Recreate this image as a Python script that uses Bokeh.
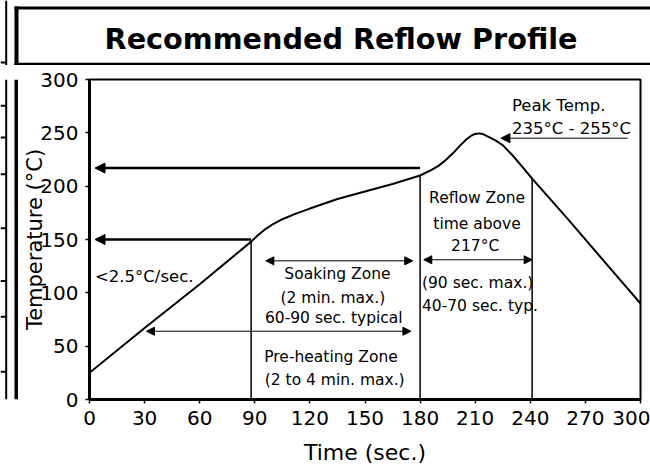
from bokeh.plotting import figure
from bokeh.layouts import column, row
from bokeh.models import (ColumnDataSource, Arrow, NormalHead, Range1d, FixedTicker)
from bokeh.core.properties import value
from bokeh.embed import file_html
from bokeh.resources import INLINE

# ---- data ----
time_s = [0, 30, 60, 88, 92, 96, 100, 105, 112, 120, 135, 150, 165, 180, 186, 190, 194,
          198, 202, 205, 208, 210, 212, 214, 217, 221, 225, 230, 235, 241, 260, 280, 300]
temp_c = [25, 67, 108, 148, 154.5, 160, 164.5, 169, 174, 179, 188, 195, 202, 210, 215,
          219, 224.5, 231, 238.5, 243.5, 247.5, 249, 249.5, 249, 246.5, 243, 238.5, 229.5,
          219.5, 207, 170, 130, 90]

x_ticks = [0, 30, 60, 90, 120, 150, 180, 210, 240, 270, 300]
y_ticks = [0, 50, 100, 150, 200, 250, 300]

# zone boundaries (time, temperature where the line meets the curve)
zone_time = [88, 180, 241]
zone_temp = [148, 210, 207]

# long left-pointing arrows at 217 and 150 degC
lim_temp = [217, 150]
lim_from = [180, 88]
lim_to = [3, 3]

# double-headed span arrows
span_y = [130, 131, 64]
span_x0 = [96, 182, 31]
span_x1 = [176, 241, 175]

# peak temperature pointer
peak_y = [245]
peak_x0 = [293]
peak_x1 = [224]

note_text = ["Peak Temp.", "235°C - 255°C", "Reflow Zone", "time above", "217°C",
             "(90 sec. max.)", "40-70 sec. typ.", "Soaking Zone", "(2 min. max.)",
             "60-90 sec. typical", "Pre-heating Zone", "(2 to 4 min. max.)", "<2.5°C/sec."]
note_x = [230, 230, 211, 211, 210, 181, 181, 135, 132.5, 133, 131.5, 133.5, 3]
note_y = [276, 254, 188.5, 164.5, 144, 109.5, 87.5, 117.5, 95.5, 76.5, 40, 18, 115.5]
note_align = ["left", "left", "center", "center", "center", "left", "left",
              "center", "center", "center", "center", "center", "left"]
note_size = ["16.5px", "16.5px", "15.5px", "15.5px", "15.5px", "15.5px", "15.5px",
             "15.5px", "15.5px", "15.5px", "15.5px", "15.5px", "16.5px"]

title_text = "Recommended Reflow Profile"

# page-frame decoration (pixel positions of the surrounding table rules)
strip_stub_y = [98, 138, 184, 252, 318, 363, 432]

FONT = "DejaVu Sans"
W, H = 650, 467
TOP_H = 65          # height of the heading band
LEFT_W = 18         # width of the left border strip
BORDER_X = 16       # centre of the thick outer rule


def bare(width, height, xr, yr):
    f = figure(width=width, height=height, output_backend="svg", toolbar_location=None,
               x_range=xr, y_range=yr, x_axis_type=None, y_axis_type=None,
               min_border=0, min_border_left=0, min_border_right=0,
               min_border_top=0, min_border_bottom=0)
    f.grid.visible = False
    f.outline_line_color = None
    f.background_fill_color = "white"
    f.border_fill_color = "white"
    return f


# ---- heading band ----
top = bare(W, TOP_H, Range1d(0, W), Range1d(TOP_H, 0))
top.segment(x0=[BORDER_X - 2, BORDER_X - 2], y0=[7.5, 63.8], x1=[W, W], y1=[7.5, 63.8],
            line_color="black", line_width=3)
top.segment(x0=[BORDER_X], y0=[6], x1=[BORDER_X], y1=[TOP_H], line_color="black", line_width=4)
top.segment(x0=[5.7], y0=[0], x1=[5.7], y1=[TOP_H], line_color="black", line_width=2)
top.segment(x0=[0], y0=[62], x1=[5.7], y1=[62], line_color="black", line_width=2)
top.text(x=[340.5], y=[38], text=[title_text], text_align="center",
         text_baseline="alphabetic", text_font=value(FONT), text_font_style="bold",
         text_font_size="28.7px", text_color="black")

# ---- left border strip ----
strip = bare(LEFT_W, H - TOP_H, Range1d(0, LEFT_W), Range1d(H, TOP_H))
strip.segment(x0=[BORDER_X], y0=[TOP_H], x1=[BORDER_X], y1=[H], line_color="black", line_width=4)
strip.segment(x0=[5.7], y0=[TOP_H], x1=[5.7], y1=[H], line_color="black", line_width=2)
strip.segment(x0=[0] * len(strip_stub_y), y0=strip_stub_y,
              x1=[5.7] * len(strip_stub_y), y1=strip_stub_y,
              line_color="black", line_width=2)

# ---- main chart ----
p = figure(width=W - LEFT_W, height=H - TOP_H, output_backend="svg", toolbar_location=None,
           x_range=Range1d(0, 300), y_range=Range1d(0, 300),
           min_border_left=71, min_border_right=10, min_border_top=14, min_border_bottom=65,
           x_axis_label="Time (sec.)", y_axis_label="Temperature (°C)")
p.grid.visible = False
p.background_fill_color = "white"
p.border_fill_color = "white"
p.outline_line_color = "black"
p.outline_line_width = 2

for ax in (p.xaxis[0], p.yaxis[0]):
    ax.axis_line_width = 3
    ax.axis_line_color = "black"
    ax.major_tick_line_color = "black"
    ax.major_tick_line_width = 1.5
    ax.major_tick_out = 4
    ax.major_tick_in = 0
    ax.minor_tick_line_color = None
    ax.major_label_text_font = FONT
    ax.major_label_text_font_size = "20px"
    ax.major_label_text_color = "black"
    ax.axis_label_text_font = FONT
    ax.axis_label_text_font_style = "normal"
    ax.axis_label_text_color = "black"

p.xaxis[0].axis_label_text_font_size = "22px"
p.yaxis[0].axis_label_text_font_size = "21px"
p.xaxis[0].ticker = FixedTicker(ticks=x_ticks)
p.yaxis[0].ticker = FixedTicker(ticks=y_ticks)
p.xaxis[0].major_label_standoff = 7
p.xaxis[0].axis_label_standoff = 12
p.yaxis[0].major_label_standoff = 7
p.yaxis[0].axis_label_standoff = -10

# profile curve
p.line(time_s, temp_c, line_color="black", line_width=2)

# vertical zone lines
p.segment(x0=zone_time, y0=[0] * len(zone_time), x1=zone_time, y1=zone_temp,
          line_color="black", line_width=1.5)

# long arrows
lim_src = ColumnDataSource(dict(x0=lim_from, x1=lim_to, y=lim_temp))
p.add_layout(Arrow(end=NormalHead(size=10, fill_color="black", line_color="black"),
                   x_start="x0", y_start="y", x_end="x1", y_end="y",
                   line_width=2.5, line_color="black", source=lim_src))

# double-headed spans
span_src = ColumnDataSource(dict(x0=span_x0, x1=span_x1, y=span_y))
p.add_layout(Arrow(start=NormalHead(size=8, fill_color="black", line_color="black"),
                   end=NormalHead(size=8, fill_color="black", line_color="black"),
                   x_start="x0", y_start="y", x_end="x1", y_end="y",
                   line_width=1, line_color="black", source=span_src))

# peak pointer
peak_src = ColumnDataSource(dict(x0=peak_x0, x1=peak_x1, y=peak_y))
p.add_layout(Arrow(end=NormalHead(size=9, fill_color="black", line_color="black"),
                   x_start="x0", y_start="y", x_end="x1", y_end="y",
                   line_width=1, line_color="black", source=peak_src))

# annotations
note_src = ColumnDataSource(dict(x=note_x, y=note_y, t=note_text, a=note_align, s=note_size))
p.text(x="x", y="y", text="t", text_align="a", text_baseline="alphabetic",
       text_font=value(FONT), text_font_size="s", text_color="black", source=note_src)

layout = column(top, row(strip, p, spacing=0), spacing=0)
open("out.html", "w").write(file_html(layout, INLINE))
